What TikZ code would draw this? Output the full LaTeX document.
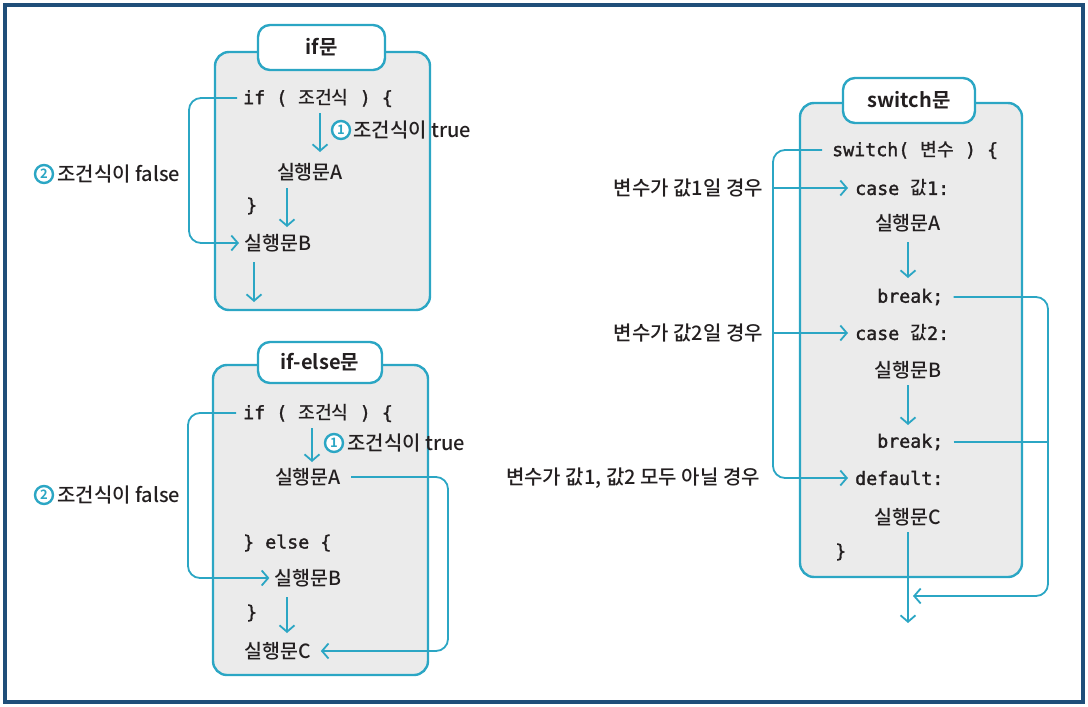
\documentclass[tikz,border=0pt]{standalone}
\usepackage{fontspec}
\setmainfont{Noto Sans CJK KR}[UprightFont={* Medium}, BoldFont={* Bold}]
\newfontfamily\mono{DejaVu Sans Mono}[FakeBold=1.6]
\usetikzlibrary{arrows.meta}
\definecolor{tl}{HTML}{2BA6C4}
\definecolor{boxg}{HTML}{EBEBEB}
\definecolor{outer}{HTML}{1F4E79}
\definecolor{txt}{HTML}{231F20}
\begin{document}
\begin{tikzpicture}[x=1pt,y=-1pt,
  flow/.style={draw=tl, line width=1.8pt, -{Straight Barb[length=6.5pt,width=15pt]}, rounded corners=12pt},
  plain/.style={draw=tl, line width=1.8pt, rounded corners=12pt},
  box/.style={draw=tl, fill=boxg, line width=2.4pt, rounded corners=14pt},
  tab/.style={draw=tl, fill=white, line width=2.4pt, rounded corners=12pt, text=txt, font=\fontsize{20}{24}\selectfont\bfseries},
  code/.style={anchor=west, inner sep=0pt, text=txt, font=\fontsize{18.3}{22}\selectfont},
  stm/.style={inner sep=0pt, text=txt, font=\fontsize{19.5}{22}\selectfont},
  lab/.style={inner sep=0pt, text=txt, font=\fontsize{20}{22}\selectfont},
  num/.style={circle, draw=tl, fill=white, line width=2.4pt, inner sep=0pt, minimum size=18pt, text=tl, font=\fontsize{13}{13}\selectfont\bfseries},
]
\useasboundingbox (0,0) rectangle (1088,707);
\draw[draw=outer, line width=4.5pt] (5,5) rectangle (1083,702);

% boxes
\node[box, minimum width=215pt, minimum height=258pt] (ifbox) at (322.5,181) {};
\node[tab, minimum width=127pt, minimum height=45pt] (iftab) at (321.5,47.5) {if문};
\node[box, minimum width=215pt, minimum height=310pt] (elbox) at (320.5,520) {};
\node[tab, minimum width=124pt, minimum height=41pt] (eltab) at (320,362.5) {if-else문};
\node[box, minimum width=222pt, minimum height=474pt] (swbox) at (911,340) {};
\node[tab, minimum width=132pt, minimum height=45pt] (swtab) at (909,100.5) {switch문};

% ---------- if ----------
\node[code] (ifA) at (243,98) {{\mono if ( }조건식{\mono\ ) \{}};
\node[stm] (sA1) at (310,172) {실행문A};
\node[code] (br1) at (246,206) {\mono \}};
\node[stm, anchor=west] (sB1) at (244,243) {실행문B};
\node[num] (n1) at (341,130) {1};
\node[lab, anchor=west] (t1) at (353,130) {조건식이 true};
\node[num] (n2) at (44,174) {2};
\node[lab, anchor=west] (f1) at (57,174) {조건식이 false};

\coordinate (L1) at (189,0);
\draw[flow] ([xshift=-6pt]ifA.west) -- (ifA.west -| L1) |- ([xshift=-5pt]sB1.west);
\coordinate (a1s) at (320,113); \coordinate (a1e) at (320,152);
\draw[flow] (a1s) -- (a1e);
\coordinate (a2s) at (287,188); \coordinate (a2e) at (287,227);
\draw[flow] (a2s) -- (a2e);
\coordinate (a3s) at (254,262); \coordinate (a3e) at (254,302);
\draw[flow] (a3s) -- (a3e);

% ---------- if-else ----------
\node[code] (ifB) at (243,413) {{\mono if ( }조건식{\mono\ ) \{}};
\node[stm] (sA2) at (308,477) {실행문A};
\node[code] (el) at (243,543) {\mono \} else \{};
\node[stm] (sB2) at (308,578) {실행문B};
\node[code] (br2) at (246,613) {\mono \}};
\node[stm, anchor=west] (sC2) at (244,651) {실행문C};
\node[num] (n3) at (334,443) {1};
\node[lab, anchor=west] (t2) at (347,443) {조건식이 true};
\node[num] (n4) at (44,495) {2};
\node[lab, anchor=west] (f2) at (57,495) {조건식이 false};

\coordinate (L2) at (188,0);
\coordinate (R2) at (448,0);
\draw[flow] ([xshift=-7pt]ifB.west) -- (ifB.west -| L2) |- ([xshift=-5pt]sB2.west);
\draw[flow] ([xshift=10pt]sA2.east) -- (sA2.east -| R2) |- ([xshift=10pt]sC2.east);
\coordinate (b1s) at (312,428); \coordinate (b1e) at (312,462);
\draw[flow] (b1s) -- (b1e);
\coordinate (b2s) at (287,597); \coordinate (b2e) at (287,633);
\draw[flow] (b2s) -- (b2e);

% ---------- switch ----------
\node[code] (sw) at (832,150) {{\mono switch( }변수{\mono\ ) \{}};
\node[code] (c1) at (855,188) {{\mono case }값{\mono 1:}};
\node[stm] (sAs) at (908,223) {실행문A};
\node[code] (k1) at (877,297) {\mono break;};
\node[code] (c2) at (855,333) {{\mono case }값{\mono 2:}};
\node[stm] (sBs) at (908,370) {실행문B};
\node[code] (k2) at (877,442) {\mono break;};
\node[code] (df) at (855,478) {\mono default:};
\node[stm] (sCs) at (908,517) {실행문C};
\node[code] (br3) at (835,552) {\mono \}};

\node[lab, anchor=east] (l1) at (763,188) {변수가 값1일 경우};
\node[lab, anchor=east] (l2) at (763,333) {변수가 값2일 경우};
\node[lab, anchor=east] (l3) at (760,478) {변수가 값1, 값2 모두 아닐 경우};

\coordinate (L3) at (773,0);
\coordinate (R3) at (1048,0);
\draw[flow] ([xshift=-10pt]sw.west) -- (sw.west -| L3) |- ([xshift=-7pt]df.west);
\draw[flow] (c1.west -| L3) -- ([xshift=-7pt]c1.west);
\draw[flow] (c2.west -| L3) -- ([xshift=-7pt]c2.west);
\coordinate (tipC) at (913,596);
\draw[flow] ([xshift=10pt]k1.east) -- (k1.east -| R3) |- (tipC);
\draw[plain] ([xshift=10pt]k2.east) -- (k2.east -| R3);
\coordinate (s1s) at (908,242); \coordinate (s1e) at (908,278);
\draw[flow] (s1s) -- (s1e);
\coordinate (s2s) at (908,385); \coordinate (s2e) at (908,425);
\draw[flow] (s2s) -- (s2e);
\coordinate (s3s) at (908,532); \coordinate (s3e) at (908,623);
\draw[flow] (s3s) -- (s3e);
\end{tikzpicture}
\end{document}
